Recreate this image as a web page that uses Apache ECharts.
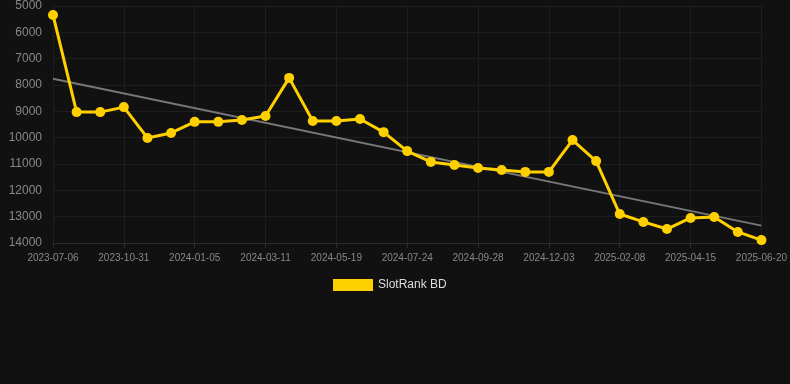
<!DOCTYPE html>
<html>
<head>
<meta charset="utf-8">
<script src="https://cdn.jsdelivr.net/npm/echarts@6/dist/echarts.min.js"></script>
<style>
html,body{margin:0;padding:0;background:#111111;}
#chart{width:790px;height:384px;}
</style>
</head>
<body>
<div id="chart"></div>
<script>
var categories = ['2023-07-06','2023-08-14','2023-09-22','2023-10-31','2023-11-22','2023-12-14','2024-01-05','2024-01-27','2024-02-18','2024-03-11','2024-04-03','2024-04-26','2024-05-19','2024-06-10','2024-07-02','2024-07-24','2024-08-15','2024-09-06','2024-09-28','2024-10-20','2024-11-11','2024-12-03','2024-12-25','2025-01-17','2025-02-08','2025-03-02','2025-03-24','2025-04-15','2025-05-07','2025-05-29','2025-06-20'];
var rankValues = [5340,9030,9030,8840,10010,9820,9400,9400,9330,9180,7730,9370,9370,9290,9790,10510,10920,11040,11150,11230,11300,11300,10090,10890,12900,13200,13470,13050,13010,13580,13890];
var trendStart = 7760;
var trendEnd = 13340;
var yTicks = [5000,6000,7000,8000,9000,10000,11000,12000,13000,14000];
var seriesName = 'SlotRank BD';

var trendData = categories.map(function(c, i){
  if (i === 0) return trendStart;
  if (i === categories.length - 1) return trendEnd;
  return null;
});

var chart = echarts.init(document.getElementById('chart'), null, {renderer:'canvas'});
chart.setOption({
  backgroundColor: '#111111',
  animation: false,
  grid: {left: 53, right: 28, top: 6, bottom: 141},
  legend: {
    data: [seriesName],
    top: 274,
    left: 328,
    itemWidth: 40,
    itemHeight: 12,
    icon: 'rect',
    textStyle: {color: '#dddddd', fontSize: 12, fontFamily: 'Liberation Sans, Arial, sans-serif'}
  },
  xAxis: {
    type: 'category',
    data: categories,
    boundaryGap: false,
    axisLine: {show: true, lineStyle: {color: '#2a2a2a'}},
    axisTick: {show: true, interval: 2, lineStyle: {color: '#2a2a2a'}},
    axisLabel: {interval: 2, color: '#888888', fontSize: 10, fontFamily: 'Liberation Sans, Arial, sans-serif', margin: 10},
    splitLine: {show: true, interval: 2, lineStyle: {color: '#1e1e1e'}}
  },
  yAxis: {
    type: 'value',
    inverse: true,
    min: yTicks[0],
    max: yTicks[yTicks.length - 1],
    interval: 1000,
    axisLine: {show: false},
    axisTick: {show: false},
    axisLabel: {color: '#888888', fontSize: 12, fontFamily: 'Liberation Sans, Arial, sans-serif', margin: 11, formatter: function(v){ return String(v); }},
    splitLine: {show: true, lineStyle: {color: '#1e1e1e'}}
  },
  series: [
    {
      name: seriesName,
      type: 'line',
      data: rankValues,
      symbol: 'circle',
      symbolSize: 10,
      z: 3,
      itemStyle: {color: '#FFD000'},
      lineStyle: {color: '#FFD000', width: 3}
    },
    {
      name: 'trend',
      type: 'line',
      data: trendData,
      connectNulls: true,
      symbol: 'none',
      z: 2,
      lineStyle: {color: '#777777', width: 2},
      itemStyle: {color: '#777777'},
      silent: true
    }
  ]
});
</script>
</body>
</html>
